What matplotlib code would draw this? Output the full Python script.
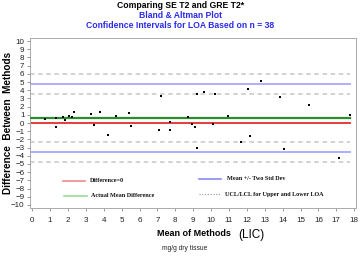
import matplotlib
matplotlib.use("Agg")
import matplotlib.pyplot as plt
import numpy as np

# Data
mean_methods = [0.71, 1.32, 1.32, 1.71, 1.84, 2.05, 2.20, 2.36, 3.30, 3.48, 3.82, 4.26,
                4.67, 5.40, 5.55, 7.21, 7.10, 7.73, 7.69, 8.73, 8.96, 9.09, 9.23, 9.59,
                10.24, 9.22, 10.13, 10.97, 11.68, 12.79, 12.05, 13.87, 15.46, 17.77,
                12.16, 14.10, 17.13]
differences = [0.45, -0.45, 0.57, 0.70, 0.40, 0.82, 0.70, 1.38, 1.13, -0.24, 1.30, -1.46,
               0.82, 1.22, -0.37, 3.33, -0.81, 0.12, -0.85, 0.69, -0.12, -0.45, 3.54, 3.78,
               3.50, -3.09, -0.16, 0.89, -2.36, 5.16, 4.19, 3.13, 2.24, 0.93,
               -1.54, -3.21, -4.23]
mean_diff = 0.61
loa_upper = 4.76
loa_lower = -3.54
ci_lines = [5.94, 3.57, -2.35, -4.70]
x_ticks = list(range(0, 19))
y_ticks = list(range(-10, 11))

plt.rcParams['font.family'] = ['Liberation Sans', 'DejaVu Sans']

fig = plt.figure(figsize=(3.61, 2.56), dpi=100)
ax = fig.add_axes([30/361, 1-208/256, 326/361, 170/256])
ax.set_xlim(-0.12, 18.1)
ax.set_ylim(-10.37, 10.37)

x_end = max(mean_methods)
xl = [-0.12, x_end]
for c in ci_lines:
    ax.plot(xl, [c, c], color='#cfcfcf', lw=1.3, dashes=(2.5, 2), zorder=1)
ax.plot(xl, [loa_upper]*2, color='#a8a8ff', lw=1.3, zorder=2)
ax.plot(xl, [loa_lower]*2, color='#a8a8ff', lw=1.3, zorder=2)
ax.plot(xl, [0, 0], color='#e83a3a', lw=1.4, zorder=2)
ax.plot(xl, [mean_diff]*2, color='#2a8c2a', lw=1.6, zorder=3)
ax.scatter(mean_methods, differences, s=3.5, marker='s', color='black', zorder=4, linewidths=0)

ax.set_xticks(x_ticks)
ax.set_yticks(y_ticks)
ax.tick_params(axis='both', labelsize=5.8, length=2.5, width=0.6, color='#888888',
               labelcolor='#222222', pad=1.5)
ax.tick_params(axis='x', pad=4)
for s in ax.spines.values():
    s.set_color('#aaaaaa')
    s.set_linewidth(0.7)

# legend drawn manually
tr = ax.transAxes
leg_font = dict(family=['Liberation Serif', 'DejaVu Serif'], fontsize=4.4, fontweight='bold',
                va='center', transform=tr, color='#111111')
ax.plot([0.101, 0.169], [0.161, 0.161], color='#f08a8a', lw=1.2, transform=tr)
ax.text(0.183, 0.161, 'Difference=0', **leg_font)
ax.plot([0.104, 0.175], [0.072, 0.072], color='#9ad89a', lw=1.2, transform=tr)
ax.text(0.187, 0.072, 'Actual Mean Difference', **leg_font)
ax.plot([0.517, 0.585], [0.171, 0.171], color='#8c8cf0', lw=1.2, transform=tr)
ax.text(0.604, 0.171, 'Mean +/- Two Std Dev', **leg_font)
ax.plot([0.517, 0.582], [0.082, 0.082], color='#999999', lw=0.8, dashes=(1, 1.5), transform=tr)
ax.text(0.597, 0.082, 'UCL/LCL for Upper and Lower LOA', **leg_font)

# titles
fig.text(0.5, 1-6/256, 'Comparing SE T2 and GRE T2*', ha='center', va='center',
         fontsize=6.2, fontweight='bold', color='black')
fig.text(0.5, 1-16/256, 'Bland & Altman Plot', ha='center', va='center',
         fontsize=6.2, fontweight='bold', color='#2a2aee')
fig.text(0.5, 1-26/256, 'Confidence Intervals for LOA Based on n = 38', ha='center', va='center',
         fontsize=6.2, fontweight='bold', color='#2a2aee')

fig.text(8/361, 1-123/256, 'Difference  Between  Methods', rotation=90, ha='center', va='center',
         fontsize=7.2, fontweight='bold', color='black')
fig.text(194/361, 1-233/256, 'Mean of Methods', ha='center', va='center',
         fontsize=6.5, fontweight='bold', color='black')
fig.text(251/361, 1-235/256, '(LIC)', ha='center', va='center',
         fontsize=8.5, color='black')
fig.text(185/361, 1-248/256, 'mg/g dry tissue', ha='center', va='center',
         fontsize=4.8, color='#222222')

fig.savefig('out.png', dpi=100)
